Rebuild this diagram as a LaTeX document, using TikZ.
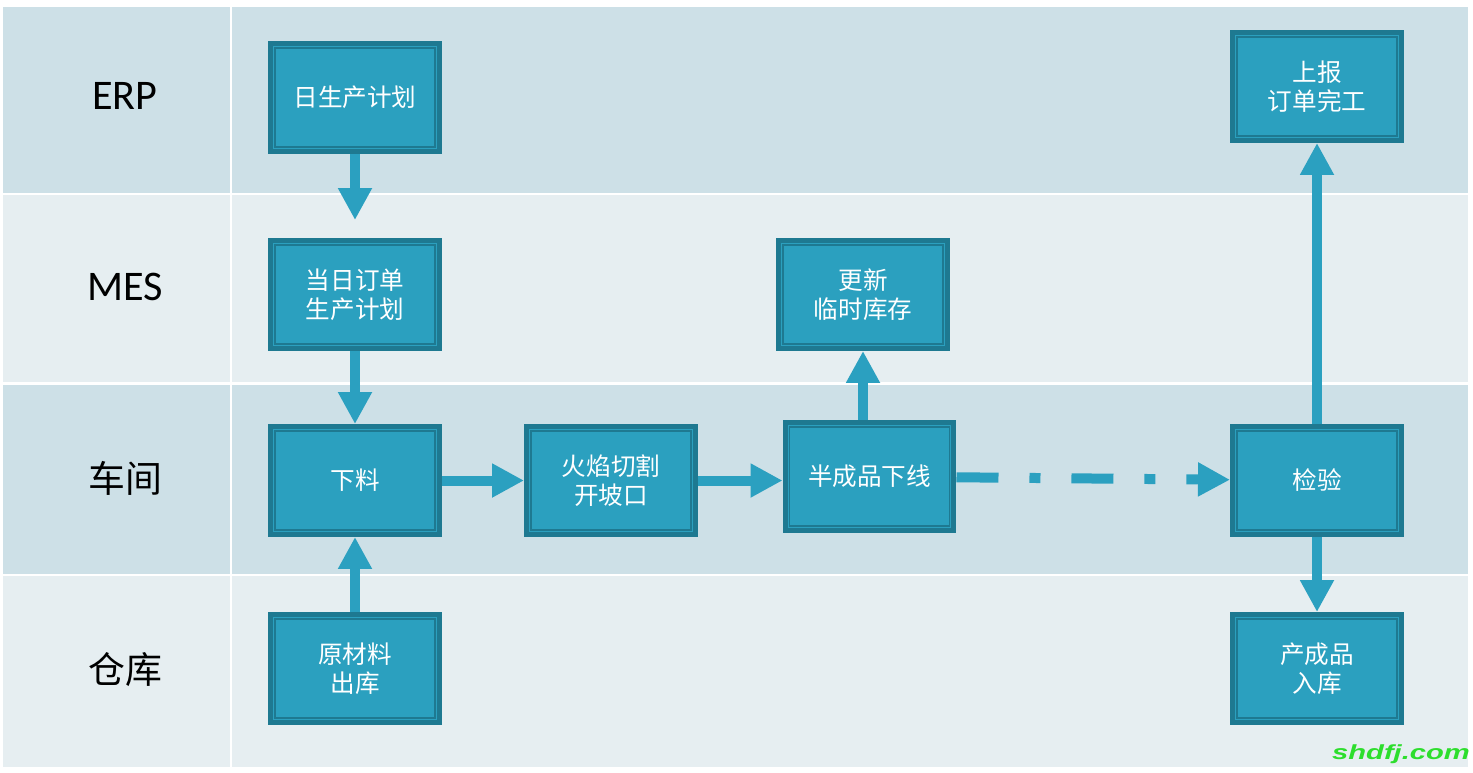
\documentclass[tikz,border=0pt]{standalone}
\usepackage{fontspec}
\setmainfont{Noto Sans CJK SC}
\newfontfamily\latinfont{Carlito}
\newfontfamily\markfont{Liberation Sans}
\usetikzlibrary{arrows.meta}

\definecolor{laneA}{RGB}{205,224,231}
\definecolor{laneB}{RGB}{230,238,241}
\definecolor{boxfill}{RGB}{43,160,191}
\definecolor{boxedge}{RGB}{30,121,145}
\definecolor{flowcol}{RGB}{43,160,192}
\definecolor{markgreen}{RGB}{45,222,45}

\newcommand{\lanelatin}[1]{{\latinfont\fontsize{24}{28}\selectfont #1}}

\begin{document}
\begin{tikzpicture}[x=0.02cm, y=-0.02cm,
		task/.style={draw=boxedge, line width=0.1cm, fill=boxfill, text=white,
			align=center, inner sep=0pt, minimum width=3.38cm, minimum height=2.16cm,
			font=\fontsize{14}{16.5}\selectfont},
		inset/.style={draw=boxedge, line width=0.8pt},
		flow/.style={draw=flowcol, line width=0.2cm,
			-{Triangle[length=0.64cm, width=0.64cm]}},
		lanelabel/.style={font=\fontsize{21}{24}\selectfont}]

		\useasboundingbox[fill=white] (0,0) rectangle (1473,772);

		% swim lanes
		\foreach \top/\bot/\mid/\lanecol/\lanename [count=\i] in
			{7/193/96/laneA/\lanelatin{ERP}, 195/382/287/laneB/\lanelatin{MES},
			 385/574/478/laneA/车间, 576/767/670/laneB/仓库}
		{
			\fill[\lanecol] (3,\top) rectangle (230,\bot);
			\fill[\lanecol] (232,\top) rectangle (1468,\bot);
			\node[lanelabel] (lane\i) at (125,\mid) {\lanename};
		}

		% steps
		\node[task] (plan) at (355,97.5) {日生产计划};

		\node[task] (order) at (355,294.5) {当日订单\\生产计划};

		\node[task] (cut) at (355,480.5) {下料};

		\node[task] (raw) at (355,668.5) {原材料\\出库};

		\node[task] (flame) at (611,480.5) {火焰切割\\开坡口};

		\node[task] (semi) at (869.5,476.5) {半成品下线};

		\node[task] (stock) at (863,294.5) {更新\\临时库存};

		\node[task] (check) at (1317,480.5) {检验};

		\node[task] (report) at (1317,86.5) {上报\\订单完工};

		\node[task] (store) at (1317,668.5) {产成品\\入库};

		\foreach \n in {plan,order,cut,raw,flame,semi,stock,check,report,store}
			\draw[inset] ([shift={(7,7)}]\n.north west) rectangle ([shift={(-7,-7)}]\n.south east);

		% flow
		\draw[flow, shorten >=0.36cm] (plan) -- (order);

		\draw[flow] (order) -- (cut);

		\draw[flow] (raw) -- (cut);

		\draw[flow] (cut) -- (flame);

		\draw[flow] (flame.east) -- (flame.east -| semi.west);

		\draw[flow] (semi.north -| stock.south) -- (stock.south);

		\draw[flow, dash pattern=on 0.84cm off 0.62cm on 0.22cm off 0.62cm] (semi) -- (check);

		\draw[flow] (check) -- (report);

		\draw[flow] (check) -- (store);

		\node[text=markgreen, font=\markfont\bfseries\itshape\fontsize{11.6}{14}\selectfont]%
		(mark) at (1401,754) {\scalebox{1.43}[1]{shdfj.com}};
	\end{tikzpicture}
\end{document}
